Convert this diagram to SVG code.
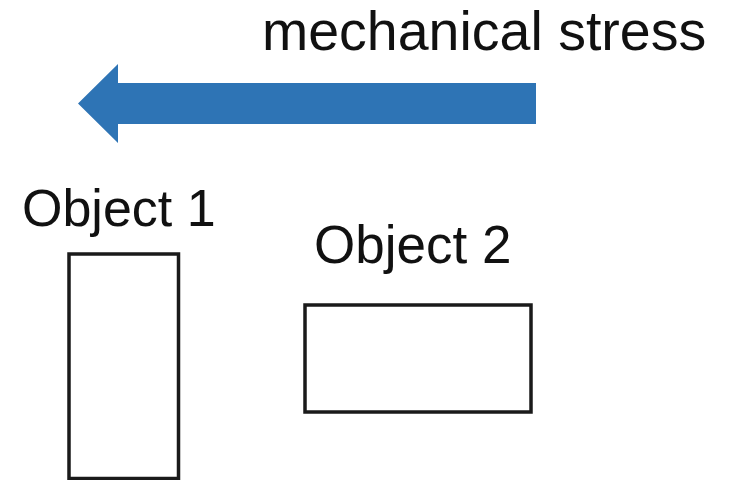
<svg xmlns="http://www.w3.org/2000/svg" width="731" height="480" viewBox="0 0 731 480">
  <style>
    .label { font-family: "Liberation Sans", Arial, sans-serif; font-size: 52px; fill: #111111; }
    .box { fill: #ffffff; stroke: #1a1a1a; stroke-width: 3.5; }
  </style>
  <rect width="731" height="480" fill="#ffffff"/>
  <g id="stress">
    <text class="label" x="262" y="50" style="font-size:55.5px">mechanical stress</text>
  </g>
  <g id="connectors">
    <path d="M536,83 L118,83 L118,64 L78,103.5 L118,143 L118,124 L536,124 Z" fill="#2e74b5"/>
  </g>
  <g id="object1">
    <text class="label" x="22" y="226">Object 1</text>
    <rect class="box" x="69" y="254" width="109.5" height="224.5"/>
  </g>
  <g id="object2">
    <text class="label" x="314" y="263" style="font-size:53px">Object 2</text>
    <rect class="box" x="305" y="305" width="226" height="107"/>
  </g>
</svg>
